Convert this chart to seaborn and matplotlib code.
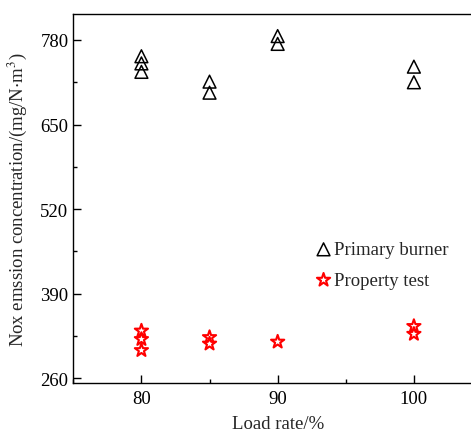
import matplotlib
matplotlib.use("Agg")
import matplotlib.pyplot as plt
import seaborn as sns
import pandas as pd
from matplotlib.ticker import MultipleLocator

# NOx emission measured at each load rate
primary_load = [80, 80, 80, 85, 85, 90, 90, 100, 100]
primary_nox = [755, 744, 731, 716, 699, 786, 774, 739, 715]

property_load = [80, 80, 80, 85, 85, 90, 100, 100]
property_nox = [333, 320, 303, 323, 313, 316, 340, 328]

x_ticks = [80, 90, 100]
y_ticks = [260, 390, 520, 650, 780]

primary = pd.DataFrame({"load": primary_load, "nox": primary_nox})
prop = pd.DataFrame({"load": property_load, "nox": property_nox})

sns.set_style("ticks")
plt.rcParams["font.family"] = ["Liberation Serif", "DejaVu Serif"]
plt.rcParams["mathtext.fontset"] = "stix"

W, H = 471, 439
fig = plt.figure(figsize=(W / 100, H / 100), dpi=100)
ax = fig.add_axes([73.3 / W, (H - 384.3) / H, (482 - 73.3) / W, (384.3 - 14.7) / H])

sns.scatterplot(data=primary, x="load", y="nox", ax=ax, marker="^", s=85,
                facecolor="none", edgecolor="black", linewidth=1.1,
                label="Primary burner", zorder=3)
sns.scatterplot(data=prop, x="load", y="nox", ax=ax, marker="*", s=100,
                facecolor="none", edgecolor="red", linewidth=1.5,
                label="Property test", zorder=3)

ax.set_xlim(75, 105)
ax.set_ylim(252.3, 820.4)
ax.set_xticks(x_ticks)
ax.set_yticks(y_ticks)
ax.xaxis.set_minor_locator(MultipleLocator(5))
ax.yaxis.set_minor_locator(MultipleLocator(65))

ax.tick_params(which="major", direction="in", length=5.5, width=1.0,
               labelsize=13.5, color="black", labelcolor="black")
ax.tick_params(which="minor", direction="in", length=2.7, width=1.0, color="black")
ax.tick_params(axis="x", which="major", pad=4.5)
ax.tick_params(axis="y", which="major", pad=3.5)
ax.tick_params(top=False, right=False, which="both")

for side in ["left", "bottom", "top", "right"]:
    ax.spines[side].set_visible(True)
    ax.spines[side].set_linewidth(1.0)
    ax.spines[side].set_color("black")

ax.set_xlabel("Load rate/%", fontsize=13.5, labelpad=6)
ax.set_ylabel(r"Nox emssion concentration/(mg/N$\cdot$m$^3$)", fontsize=13.5, labelpad=8)

ax.legend(loc="upper left", bbox_to_anchor=(0.571, 0.405), frameon=False,
          fontsize=13.5, handletextpad=0.05, handlelength=1.0,
          labelspacing=0.72, borderaxespad=0)

fig.savefig("out.png", dpi=100)
